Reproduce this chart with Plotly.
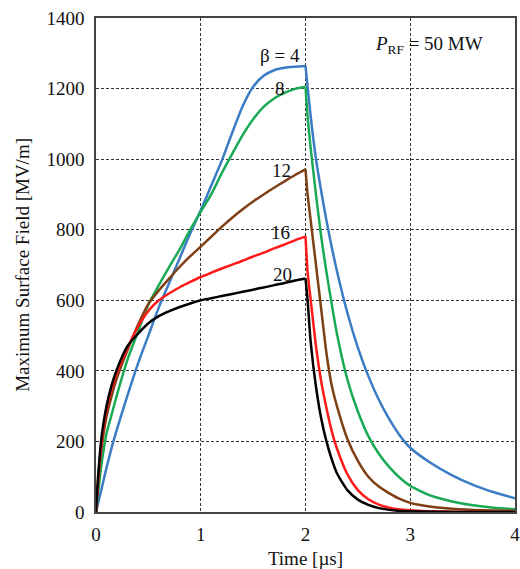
import plotly.graph_objects as go

# Time axis samples [µs]
time_us = [0, 0.02, 0.05, 0.1, 0.15, 0.2, 0.3, 0.4, 0.5, 0.6, 0.7, 0.8, 0.9,
           1.0, 1.1, 1.2, 1.3, 1.4, 1.5, 1.6, 1.7, 1.8, 1.9, 2.0,
           2.02, 2.05, 2.1, 2.15, 2.2, 2.25, 2.3, 2.4, 2.5, 2.6, 2.7, 2.8, 2.9,
           3.0, 3.2, 3.4, 3.6, 3.8, 4.0]

# Maximum surface field [MV/m] for each coupling factor beta
field_b4 = [0, 25, 62, 125, 183, 235, 330, 420, 500, 580, 650, 720, 790,
            855, 925, 995, 1075, 1150, 1205, 1236, 1252, 1259, 1262, 1264,
            1205, 1120, 1000, 909, 826, 751, 683, 564, 466, 385, 318, 263, 217,
            182, 138, 104, 77, 56, 39]
field_b8 = [0, 55, 130, 222, 277, 332, 431, 510, 588, 643, 695, 745, 800,
            851, 900, 960, 1015, 1068, 1113, 1148, 1172, 1188, 1199, 1205,
            1120, 1030, 900, 780, 680, 590, 505, 375, 285, 215, 165, 127, 97,
            74, 46, 30, 19, 12, 8]
field_b12 = [0, 80, 175, 270, 330, 380, 458, 530, 590, 628, 662, 695, 725,
             752, 780, 808, 834, 858, 880, 900, 919, 937, 955, 971,
             900, 825, 700, 575, 450, 359, 300, 207, 145, 100, 72, 53, 37,
             26, 15, 9, 6, 4, 3]
field_b16 = [0, 90, 190, 290, 350, 395, 465, 525, 570, 600, 620, 637, 652,
             666, 678, 690, 701, 712, 724, 735, 747, 758, 770, 781,
             680, 600, 470, 370, 295, 230, 180, 107, 62, 36, 21, 12, 7,
             5, 2, 1, 0, 0, 0]
field_b20 = [0, 100, 205, 300, 360, 405, 470, 505, 535, 555, 569, 581, 591,
             600, 606, 612, 618, 624, 630, 636, 643, 649, 656, 662,
             600, 480, 355, 265, 200, 150, 110, 62, 35, 20, 11, 6, 3,
             2, 1, 0, 0, 0, 0]

series = [
    ("β = 4", field_b4, "#3b7cc4"),
    ("β = 8", field_b8, "#1aaa55"),
    ("β = 12", field_b12, "#7f3f14"),
    ("β = 16", field_b16, "#ff1a1a"),
    ("β = 20", field_b20, "#000000"),
]

x_ticks = [0, 1, 2, 3, 4]
y_ticks = [0, 200, 400, 600, 800, 1000, 1200, 1400]

# Curve labels: (text, time position, field position)
curve_labels = [
    ("β = 4", 1.76, 1295),
    ("8", 1.76, 1200),
    ("12", 1.77, 969),
    ("16", 1.76, 791),
    ("20", 1.78, 674),
]

FONT = "Liberation Serif, Times New Roman, serif"
TXT = "#111"

# RF pulse ends at 2 µs: draw the filling and the decay as separate smooth
# segments so the corner at the end of the pulse stays sharp.
i_end = time_us.index(2.0)

fig = go.Figure()
for name, vals, color in series:
    for seg in (slice(0, i_end + 1), slice(i_end, None)):
        fig.add_trace(go.Scatter(
            x=time_us[seg], y=vals[seg], mode="lines", name=name,
            line=dict(color=color, width=2.5, shape="spline", smoothing=0.6),
            showlegend=False,
        ))

for text, tx, fy in curve_labels:
    fig.add_annotation(x=tx, y=fy, text=text, showarrow=False,
                       font=dict(family=FONT, size=19, color=TXT))

fig.add_annotation(x=3.18, y=1323, showarrow=False,
                   text="<i>P</i><sub>RF</sub> = 50 MW",
                   font=dict(family=FONT, size=19, color=TXT))

# Vertical axis title, placed left of the tick labels
fig.add_annotation(xref="paper", yref="paper", x=-0.177, y=0.5,
                   text="Maximum Surface Field [MV/m]", textangle=-90,
                   showarrow=False, xanchor="center", yanchor="middle",
                   font=dict(family=FONT, size=19, color=TXT))

axis_common = dict(
    showgrid=True, gridcolor="#333", gridwidth=1, griddash="3px,2px",
    showline=True, linecolor="#444", linewidth=1.5, mirror=True,
    zeroline=False, ticks="", automargin=False, ticklabeloverflow="allow",
    tickfont=dict(family=FONT, size=19, color=TXT),
)

fig.update_xaxes(range=[0, 4], tickvals=x_ticks, ticklabelstandoff=4,
                 title=dict(text="Time [µs]",
                            font=dict(family=FONT, size=19, color=TXT)),
                 **axis_common)
fig.update_yaxes(range=[0, 1400], tickvals=y_ticks, ticklabelstandoff=6,
                 **axis_common)

fig.update_layout(
    width=520, height=569,
    margin=dict(l=96, r=5, t=18, b=57),
    paper_bgcolor="white", plot_bgcolor="white",
    font=dict(family=FONT, size=19, color=TXT),
)

fig.write_html("out.html")
